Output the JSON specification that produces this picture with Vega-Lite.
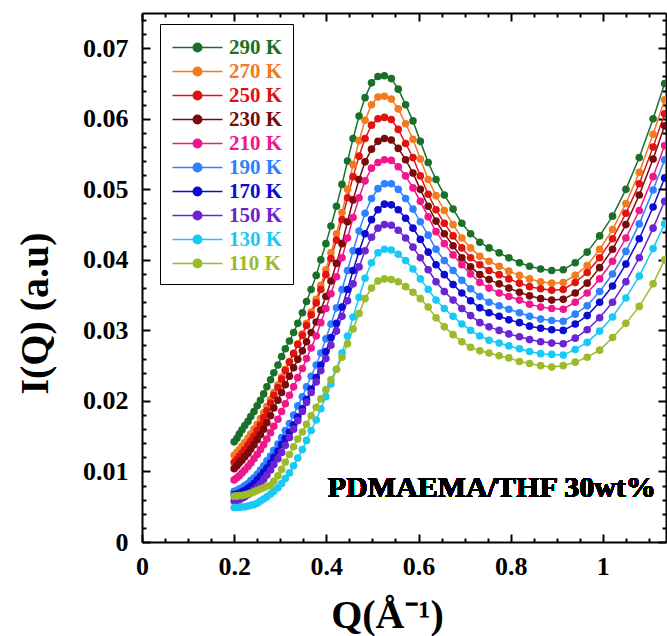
{
"$schema":"https://vega.github.io/schema/vega-lite/v6.json",
"width":524,"height":529,
"autosize":"none",
"padding":{"left":142,"top":13,"right":1,"bottom":94},
"background":"white",
"config":{"view":{"stroke":null}},
"data":{"values":[
{"t":"290 K","q":0.200,"i":0.0142},{"t":"290 K","q":0.206,"i":0.0147},{"t":"290 K","q":0.211,"i":0.0153},{"t":"290 K","q":0.217,"i":0.0159},{"t":"290 K","q":0.223,"i":0.0165},{"t":"290 K","q":0.230,"i":0.0171},{"t":"290 K","q":0.236,"i":0.0178},{"t":"290 K","q":0.243,"i":0.0185},{"t":"290 K","q":0.250,"i":0.0193},{"t":"290 K","q":0.257,"i":0.0201},
{"t":"290 K","q":0.264,"i":0.0210},{"t":"290 K","q":0.271,"i":0.0220},{"t":"290 K","q":0.279,"i":0.0230},{"t":"290 K","q":0.286,"i":0.0240},{"t":"290 K","q":0.295,"i":0.0251},{"t":"290 K","q":0.303,"i":0.0263},{"t":"290 K","q":0.311,"i":0.0274},{"t":"290 K","q":0.320,"i":0.0285},{"t":"290 K","q":0.329,"i":0.0297},{"t":"290 K","q":0.338,"i":0.0310},
{"t":"290 K","q":0.348,"i":0.0325},{"t":"290 K","q":0.357,"i":0.0341},{"t":"290 K","q":0.367,"i":0.0358},{"t":"290 K","q":0.378,"i":0.0378},{"t":"290 K","q":0.388,"i":0.0400},{"t":"290 K","q":0.399,"i":0.0423},{"t":"290 K","q":0.410,"i":0.0448},{"t":"290 K","q":0.422,"i":0.0476},{"t":"290 K","q":0.434,"i":0.0507},{"t":"290 K","q":0.446,"i":0.0540},
{"t":"290 K","q":0.458,"i":0.0572},{"t":"290 K","q":0.471,"i":0.0604},{"t":"290 K","q":0.484,"i":0.0630},{"t":"290 K","q":0.498,"i":0.0651},{"t":"290 K","q":0.512,"i":0.0660},{"t":"290 K","q":0.526,"i":0.0661},
{"t":"290 K","q":0.541,"i":0.0657},{"t":"290 K","q":0.556,"i":0.0642},{"t":"290 K","q":0.572,"i":0.0620},{"t":"290 K","q":0.588,"i":0.0597},{"t":"290 K","q":0.604,"i":0.0568},{"t":"290 K","q":0.621,"i":0.0538},{"t":"290 K","q":0.638,"i":0.0514},{"t":"290 K","q":0.656,"i":0.0492},{"t":"290 K","q":0.675,"i":0.0472},{"t":"290 K","q":0.694,"i":0.0452},
{"t":"290 K","q":0.713,"i":0.0437},{"t":"290 K","q":0.733,"i":0.0425},{"t":"290 K","q":0.753,"i":0.0417},{"t":"290 K","q":0.775,"i":0.0410},{"t":"290 K","q":0.796,"i":0.0403},{"t":"290 K","q":0.819,"i":0.0396},{"t":"290 K","q":0.841,"i":0.0391},{"t":"290 K","q":0.865,"i":0.0387},{"t":"290 K","q":0.889,"i":0.0385},
{"t":"290 K","q":0.914,"i":0.0386},{"t":"290 K","q":0.940,"i":0.0396},{"t":"290 K","q":0.966,"i":0.0411},{"t":"290 K","q":0.993,"i":0.0434},{"t":"290 K","q":1.021,"i":0.0462},{"t":"290 K","q":1.050,"i":0.0500},{"t":"290 K","q":1.079,"i":0.0545},{"t":"290 K","q":1.109,"i":0.0600},{"t":"290 K","q":1.134,"i":0.0650},

{"t":"270 K","q":0.200,"i":0.0123},{"t":"270 K","q":0.206,"i":0.0127},{"t":"270 K","q":0.211,"i":0.0131},{"t":"270 K","q":0.217,"i":0.0136},{"t":"270 K","q":0.223,"i":0.0141},{"t":"270 K","q":0.230,"i":0.0147},{"t":"270 K","q":0.236,"i":0.0153},{"t":"270 K","q":0.243,"i":0.0160},{"t":"270 K","q":0.250,"i":0.0167},{"t":"270 K","q":0.257,"i":0.0175},
{"t":"270 K","q":0.264,"i":0.0183},{"t":"270 K","q":0.271,"i":0.0192},{"t":"270 K","q":0.279,"i":0.0202},{"t":"270 K","q":0.286,"i":0.0212},{"t":"270 K","q":0.295,"i":0.0223},{"t":"270 K","q":0.303,"i":0.0234},{"t":"270 K","q":0.311,"i":0.0245},{"t":"270 K","q":0.320,"i":0.0256},{"t":"270 K","q":0.329,"i":0.0268},{"t":"270 K","q":0.338,"i":0.0281},
{"t":"270 K","q":0.348,"i":0.0295},{"t":"270 K","q":0.357,"i":0.0310},{"t":"270 K","q":0.367,"i":0.0326},{"t":"270 K","q":0.378,"i":0.0344},{"t":"270 K","q":0.388,"i":0.0364},{"t":"270 K","q":0.399,"i":0.0386},{"t":"270 K","q":0.410,"i":0.0410},{"t":"270 K","q":0.422,"i":0.0437},{"t":"270 K","q":0.434,"i":0.0467},{"t":"270 K","q":0.446,"i":0.0500},
{"t":"270 K","q":0.458,"i":0.0535},{"t":"270 K","q":0.471,"i":0.0569},{"t":"270 K","q":0.484,"i":0.0598},{"t":"270 K","q":0.498,"i":0.0620},{"t":"270 K","q":0.512,"i":0.0631},{"t":"270 K","q":0.526,"i":0.0632},
{"t":"270 K","q":0.541,"i":0.0628},{"t":"270 K","q":0.556,"i":0.0614},{"t":"270 K","q":0.572,"i":0.0593},{"t":"270 K","q":0.588,"i":0.0571},{"t":"270 K","q":0.604,"i":0.0543},{"t":"270 K","q":0.621,"i":0.0514},{"t":"270 K","q":0.638,"i":0.0491},{"t":"270 K","q":0.656,"i":0.0470},{"t":"270 K","q":0.675,"i":0.0450},{"t":"270 K","q":0.694,"i":0.0431},
{"t":"270 K","q":0.713,"i":0.0417},{"t":"270 K","q":0.733,"i":0.0405},{"t":"270 K","q":0.753,"i":0.0398},{"t":"270 K","q":0.775,"i":0.0391},{"t":"270 K","q":0.796,"i":0.0384},{"t":"270 K","q":0.819,"i":0.0378},{"t":"270 K","q":0.841,"i":0.0373},{"t":"270 K","q":0.865,"i":0.0369},{"t":"270 K","q":0.889,"i":0.0367},
{"t":"270 K","q":0.914,"i":0.0368},{"t":"270 K","q":0.940,"i":0.0378},{"t":"270 K","q":0.966,"i":0.0392},{"t":"270 K","q":0.993,"i":0.0415},{"t":"270 K","q":1.021,"i":0.0443},{"t":"270 K","q":1.050,"i":0.0480},{"t":"270 K","q":1.079,"i":0.0524},{"t":"270 K","q":1.109,"i":0.0578},{"t":"270 K","q":1.134,"i":0.0627},

{"t":"250 K","q":0.200,"i":0.0113},{"t":"250 K","q":0.206,"i":0.0117},{"t":"250 K","q":0.211,"i":0.0121},{"t":"250 K","q":0.217,"i":0.0126},{"t":"250 K","q":0.223,"i":0.0131},{"t":"250 K","q":0.230,"i":0.0137},{"t":"250 K","q":0.236,"i":0.0143},{"t":"250 K","q":0.243,"i":0.0150},{"t":"250 K","q":0.250,"i":0.0158},{"t":"250 K","q":0.257,"i":0.0166},
{"t":"250 K","q":0.264,"i":0.0176},{"t":"250 K","q":0.271,"i":0.0186},{"t":"250 K","q":0.279,"i":0.0197},{"t":"250 K","q":0.286,"i":0.0208},{"t":"250 K","q":0.295,"i":0.0219},{"t":"250 K","q":0.303,"i":0.0231},{"t":"250 K","q":0.311,"i":0.0243},{"t":"250 K","q":0.320,"i":0.0255},{"t":"250 K","q":0.329,"i":0.0267},{"t":"250 K","q":0.338,"i":0.0280},
{"t":"250 K","q":0.348,"i":0.0293},{"t":"250 K","q":0.357,"i":0.0307},{"t":"250 K","q":0.367,"i":0.0322},{"t":"250 K","q":0.378,"i":0.0339},{"t":"250 K","q":0.388,"i":0.0358},{"t":"250 K","q":0.399,"i":0.0379},{"t":"250 K","q":0.410,"i":0.0402},{"t":"250 K","q":0.422,"i":0.0428},{"t":"250 K","q":0.434,"i":0.0457},{"t":"250 K","q":0.446,"i":0.0488},
{"t":"250 K","q":0.458,"i":0.0518},{"t":"250 K","q":0.471,"i":0.0547},{"t":"250 K","q":0.484,"i":0.0572},{"t":"250 K","q":0.498,"i":0.0591},{"t":"250 K","q":0.512,"i":0.0600},{"t":"250 K","q":0.526,"i":0.0602},
{"t":"250 K","q":0.541,"i":0.0599},{"t":"250 K","q":0.556,"i":0.0585},{"t":"250 K","q":0.572,"i":0.0565},{"t":"250 K","q":0.588,"i":0.0545},{"t":"250 K","q":0.604,"i":0.0519},{"t":"250 K","q":0.621,"i":0.0493},{"t":"250 K","q":0.638,"i":0.0471},{"t":"250 K","q":0.656,"i":0.0452},{"t":"250 K","q":0.675,"i":0.0434},{"t":"250 K","q":0.694,"i":0.0417},
{"t":"250 K","q":0.713,"i":0.0403},{"t":"250 K","q":0.733,"i":0.0393},{"t":"250 K","q":0.753,"i":0.0385},{"t":"250 K","q":0.775,"i":0.0379},{"t":"250 K","q":0.796,"i":0.0373},{"t":"250 K","q":0.819,"i":0.0367},{"t":"250 K","q":0.841,"i":0.0362},{"t":"250 K","q":0.865,"i":0.0359},{"t":"250 K","q":0.889,"i":0.0357},
{"t":"250 K","q":0.914,"i":0.0358},{"t":"250 K","q":0.940,"i":0.0368},{"t":"250 K","q":0.966,"i":0.0382},{"t":"250 K","q":0.993,"i":0.0403},{"t":"250 K","q":1.021,"i":0.0430},{"t":"250 K","q":1.050,"i":0.0466},{"t":"250 K","q":1.079,"i":0.0508},{"t":"250 K","q":1.109,"i":0.0560},{"t":"250 K","q":1.134,"i":0.0607},

{"t":"230 K","q":0.200,"i":0.0104},{"t":"230 K","q":0.206,"i":0.0108},{"t":"230 K","q":0.211,"i":0.0112},{"t":"230 K","q":0.217,"i":0.0116},{"t":"230 K","q":0.223,"i":0.0121},{"t":"230 K","q":0.230,"i":0.0126},{"t":"230 K","q":0.236,"i":0.0132},{"t":"230 K","q":0.243,"i":0.0138},{"t":"230 K","q":0.250,"i":0.0145},{"t":"230 K","q":0.257,"i":0.0152},
{"t":"230 K","q":0.264,"i":0.0160},{"t":"230 K","q":0.271,"i":0.0169},{"t":"230 K","q":0.279,"i":0.0179},{"t":"230 K","q":0.286,"i":0.0190},{"t":"230 K","q":0.295,"i":0.0201},{"t":"230 K","q":0.303,"i":0.0212},{"t":"230 K","q":0.311,"i":0.0223},{"t":"230 K","q":0.320,"i":0.0235},{"t":"230 K","q":0.329,"i":0.0247},{"t":"230 K","q":0.338,"i":0.0259},
{"t":"230 K","q":0.348,"i":0.0271},{"t":"230 K","q":0.357,"i":0.0284},{"t":"230 K","q":0.367,"i":0.0297},{"t":"230 K","q":0.378,"i":0.0312},{"t":"230 K","q":0.388,"i":0.0329},{"t":"230 K","q":0.399,"i":0.0348},{"t":"230 K","q":0.410,"i":0.0370},{"t":"230 K","q":0.422,"i":0.0395},{"t":"230 K","q":0.434,"i":0.0423},{"t":"230 K","q":0.446,"i":0.0454},
{"t":"230 K","q":0.458,"i":0.0485},{"t":"230 K","q":0.471,"i":0.0514},{"t":"230 K","q":0.484,"i":0.0539},{"t":"230 K","q":0.498,"i":0.0557},{"t":"230 K","q":0.512,"i":0.0568},{"t":"230 K","q":0.526,"i":0.0572},
{"t":"230 K","q":0.541,"i":0.0570},{"t":"230 K","q":0.556,"i":0.0558},{"t":"230 K","q":0.572,"i":0.0542},{"t":"230 K","q":0.588,"i":0.0523},{"t":"230 K","q":0.604,"i":0.0500},{"t":"230 K","q":0.621,"i":0.0476},{"t":"230 K","q":0.638,"i":0.0455},{"t":"230 K","q":0.656,"i":0.0437},{"t":"230 K","q":0.675,"i":0.0420},{"t":"230 K","q":0.694,"i":0.0403},
{"t":"230 K","q":0.713,"i":0.0390},{"t":"230 K","q":0.733,"i":0.0379},{"t":"230 K","q":0.753,"i":0.0372},{"t":"230 K","q":0.775,"i":0.0366},{"t":"230 K","q":0.796,"i":0.0360},{"t":"230 K","q":0.819,"i":0.0354},{"t":"230 K","q":0.841,"i":0.0349},{"t":"230 K","q":0.865,"i":0.0345},{"t":"230 K","q":0.889,"i":0.0343},
{"t":"230 K","q":0.914,"i":0.0344},{"t":"230 K","q":0.940,"i":0.0353},{"t":"230 K","q":0.966,"i":0.0367},{"t":"230 K","q":0.993,"i":0.0389},{"t":"230 K","q":1.021,"i":0.0415},{"t":"230 K","q":1.050,"i":0.0450},{"t":"230 K","q":1.079,"i":0.0492},{"t":"230 K","q":1.109,"i":0.0543},{"t":"230 K","q":1.134,"i":0.0590},

{"t":"210 K","q":0.200,"i":0.0088},{"t":"210 K","q":0.206,"i":0.0091},{"t":"210 K","q":0.211,"i":0.0094},{"t":"210 K","q":0.217,"i":0.0098},{"t":"210 K","q":0.223,"i":0.0102},{"t":"210 K","q":0.230,"i":0.0107},{"t":"210 K","q":0.236,"i":0.0112},{"t":"210 K","q":0.243,"i":0.0118},{"t":"210 K","q":0.250,"i":0.0124},{"t":"210 K","q":0.257,"i":0.0131},
{"t":"210 K","q":0.264,"i":0.0138},{"t":"210 K","q":0.271,"i":0.0146},{"t":"210 K","q":0.279,"i":0.0155},{"t":"210 K","q":0.286,"i":0.0164},{"t":"210 K","q":0.295,"i":0.0174},{"t":"210 K","q":0.303,"i":0.0185},{"t":"210 K","q":0.311,"i":0.0196},{"t":"210 K","q":0.320,"i":0.0208},{"t":"210 K","q":0.329,"i":0.0220},{"t":"210 K","q":0.338,"i":0.0233},
{"t":"210 K","q":0.348,"i":0.0246},{"t":"210 K","q":0.357,"i":0.0260},{"t":"210 K","q":0.367,"i":0.0275},{"t":"210 K","q":0.378,"i":0.0292},{"t":"210 K","q":0.388,"i":0.0311},{"t":"210 K","q":0.399,"i":0.0331},{"t":"210 K","q":0.410,"i":0.0352},{"t":"210 K","q":0.422,"i":0.0376},{"t":"210 K","q":0.434,"i":0.0403},{"t":"210 K","q":0.446,"i":0.0431},
{"t":"210 K","q":0.458,"i":0.0460},{"t":"210 K","q":0.471,"i":0.0488},{"t":"210 K","q":0.484,"i":0.0512},{"t":"210 K","q":0.498,"i":0.0530},{"t":"210 K","q":0.512,"i":0.0538},{"t":"210 K","q":0.526,"i":0.0542},
{"t":"210 K","q":0.541,"i":0.0541},{"t":"210 K","q":0.556,"i":0.0532},{"t":"210 K","q":0.572,"i":0.0519},{"t":"210 K","q":0.588,"i":0.0502},{"t":"210 K","q":0.604,"i":0.0483},{"t":"210 K","q":0.621,"i":0.0461},{"t":"210 K","q":0.638,"i":0.0440},{"t":"210 K","q":0.656,"i":0.0423},{"t":"210 K","q":0.675,"i":0.0407},{"t":"210 K","q":0.694,"i":0.0393},
{"t":"210 K","q":0.713,"i":0.0380},{"t":"210 K","q":0.733,"i":0.0368},{"t":"210 K","q":0.753,"i":0.0360},{"t":"210 K","q":0.775,"i":0.0353},{"t":"210 K","q":0.796,"i":0.0348},{"t":"210 K","q":0.819,"i":0.0343},{"t":"210 K","q":0.841,"i":0.0337},{"t":"210 K","q":0.865,"i":0.0333},{"t":"210 K","q":0.889,"i":0.0331},
{"t":"210 K","q":0.914,"i":0.0330},{"t":"210 K","q":0.940,"i":0.0340},{"t":"210 K","q":0.966,"i":0.0353},{"t":"210 K","q":0.993,"i":0.0373},{"t":"210 K","q":1.021,"i":0.0398},{"t":"210 K","q":1.050,"i":0.0431},{"t":"210 K","q":1.079,"i":0.0470},{"t":"210 K","q":1.109,"i":0.0518},{"t":"210 K","q":1.134,"i":0.0562},

{"t":"190 K","q":0.200,"i":0.0072},{"t":"190 K","q":0.206,"i":0.0073},{"t":"190 K","q":0.211,"i":0.0075},{"t":"190 K","q":0.217,"i":0.0077},{"t":"190 K","q":0.223,"i":0.0080},{"t":"190 K","q":0.230,"i":0.0083},{"t":"190 K","q":0.236,"i":0.0087},{"t":"190 K","q":0.243,"i":0.0091},{"t":"190 K","q":0.250,"i":0.0096},{"t":"190 K","q":0.257,"i":0.0102},
{"t":"190 K","q":0.264,"i":0.0108},{"t":"190 K","q":0.271,"i":0.0115},{"t":"190 K","q":0.279,"i":0.0122},{"t":"190 K","q":0.286,"i":0.0130},{"t":"190 K","q":0.295,"i":0.0139},{"t":"190 K","q":0.303,"i":0.0148},{"t":"190 K","q":0.311,"i":0.0158},{"t":"190 K","q":0.320,"i":0.0168},{"t":"190 K","q":0.329,"i":0.0180},{"t":"190 K","q":0.338,"i":0.0193},
{"t":"190 K","q":0.348,"i":0.0206},{"t":"190 K","q":0.357,"i":0.0220},{"t":"190 K","q":0.367,"i":0.0235},{"t":"190 K","q":0.378,"i":0.0251},{"t":"190 K","q":0.388,"i":0.0268},{"t":"190 K","q":0.399,"i":0.0288},{"t":"190 K","q":0.410,"i":0.0309},{"t":"190 K","q":0.422,"i":0.0332},{"t":"190 K","q":0.434,"i":0.0358},{"t":"190 K","q":0.446,"i":0.0385},
{"t":"190 K","q":0.458,"i":0.0413},{"t":"190 K","q":0.471,"i":0.0441},{"t":"190 K","q":0.484,"i":0.0466},{"t":"190 K","q":0.498,"i":0.0487},{"t":"190 K","q":0.512,"i":0.0501},{"t":"190 K","q":0.526,"i":0.0508},
{"t":"190 K","q":0.541,"i":0.0508},{"t":"190 K","q":0.556,"i":0.0500},{"t":"190 K","q":0.572,"i":0.0487},{"t":"190 K","q":0.588,"i":0.0472},{"t":"190 K","q":0.604,"i":0.0454},{"t":"190 K","q":0.621,"i":0.0435},{"t":"190 K","q":0.638,"i":0.0415},{"t":"190 K","q":0.656,"i":0.0399},{"t":"190 K","q":0.675,"i":0.0385},{"t":"190 K","q":0.694,"i":0.0371},
{"t":"190 K","q":0.713,"i":0.0359},{"t":"190 K","q":0.733,"i":0.0348},{"t":"190 K","q":0.753,"i":0.0340},{"t":"190 K","q":0.775,"i":0.0335},{"t":"190 K","q":0.796,"i":0.0330},{"t":"190 K","q":0.819,"i":0.0325},{"t":"190 K","q":0.841,"i":0.0320},{"t":"190 K","q":0.865,"i":0.0316},{"t":"190 K","q":0.889,"i":0.0314},
{"t":"190 K","q":0.914,"i":0.0313},{"t":"190 K","q":0.940,"i":0.0323},{"t":"190 K","q":0.966,"i":0.0335},{"t":"190 K","q":0.993,"i":0.0355},{"t":"190 K","q":1.021,"i":0.0380},{"t":"190 K","q":1.050,"i":0.0412},{"t":"190 K","q":1.079,"i":0.0451},{"t":"190 K","q":1.109,"i":0.0499},{"t":"190 K","q":1.134,"i":0.0542},

{"t":"170 K","q":0.200,"i":0.0067},{"t":"170 K","q":0.206,"i":0.0068},{"t":"170 K","q":0.211,"i":0.0069},{"t":"170 K","q":0.217,"i":0.0071},{"t":"170 K","q":0.223,"i":0.0073},{"t":"170 K","q":0.230,"i":0.0076},{"t":"170 K","q":0.236,"i":0.0079},{"t":"170 K","q":0.243,"i":0.0083},{"t":"170 K","q":0.250,"i":0.0088},{"t":"170 K","q":0.257,"i":0.0093},
{"t":"170 K","q":0.264,"i":0.0099},{"t":"170 K","q":0.271,"i":0.0105},{"t":"170 K","q":0.279,"i":0.0112},{"t":"170 K","q":0.286,"i":0.0120},{"t":"170 K","q":0.295,"i":0.0129},{"t":"170 K","q":0.303,"i":0.0138},{"t":"170 K","q":0.311,"i":0.0147},{"t":"170 K","q":0.320,"i":0.0156},{"t":"170 K","q":0.329,"i":0.0166},{"t":"170 K","q":0.338,"i":0.0177},
{"t":"170 K","q":0.348,"i":0.0189},{"t":"170 K","q":0.357,"i":0.0202},{"t":"170 K","q":0.367,"i":0.0217},{"t":"170 K","q":0.378,"i":0.0233},{"t":"170 K","q":0.388,"i":0.0251},{"t":"170 K","q":0.399,"i":0.0270},{"t":"170 K","q":0.410,"i":0.0290},{"t":"170 K","q":0.422,"i":0.0310},{"t":"170 K","q":0.434,"i":0.0333},{"t":"170 K","q":0.446,"i":0.0358},
{"t":"170 K","q":0.458,"i":0.0385},{"t":"170 K","q":0.471,"i":0.0412},{"t":"170 K","q":0.484,"i":0.0437},{"t":"170 K","q":0.498,"i":0.0457},{"t":"170 K","q":0.512,"i":0.0471},{"t":"170 K","q":0.526,"i":0.0479},
{"t":"170 K","q":0.541,"i":0.0478},{"t":"170 K","q":0.556,"i":0.0471},{"t":"170 K","q":0.572,"i":0.0459},{"t":"170 K","q":0.588,"i":0.0445},{"t":"170 K","q":0.604,"i":0.0429},{"t":"170 K","q":0.621,"i":0.0411},{"t":"170 K","q":0.638,"i":0.0393},{"t":"170 K","q":0.656,"i":0.0379},{"t":"170 K","q":0.675,"i":0.0365},{"t":"170 K","q":0.694,"i":0.0353},
{"t":"170 K","q":0.713,"i":0.0342},{"t":"170 K","q":0.733,"i":0.0332},{"t":"170 K","q":0.753,"i":0.0325},{"t":"170 K","q":0.775,"i":0.0320},{"t":"170 K","q":0.796,"i":0.0315},{"t":"170 K","q":0.819,"i":0.0311},{"t":"170 K","q":0.841,"i":0.0306},{"t":"170 K","q":0.865,"i":0.0303},{"t":"170 K","q":0.889,"i":0.0301},
{"t":"170 K","q":0.914,"i":0.0300},{"t":"170 K","q":0.940,"i":0.0309},{"t":"170 K","q":0.966,"i":0.0321},{"t":"170 K","q":0.993,"i":0.0340},{"t":"170 K","q":1.021,"i":0.0363},{"t":"170 K","q":1.050,"i":0.0394},{"t":"170 K","q":1.079,"i":0.0430},{"t":"170 K","q":1.109,"i":0.0475},{"t":"170 K","q":1.134,"i":0.0516},

{"t":"150 K","q":0.200,"i":0.0058},{"t":"150 K","q":0.206,"i":0.0059},{"t":"150 K","q":0.211,"i":0.0060},{"t":"150 K","q":0.217,"i":0.0062},{"t":"150 K","q":0.223,"i":0.0064},{"t":"150 K","q":0.230,"i":0.0067},{"t":"150 K","q":0.236,"i":0.0070},{"t":"150 K","q":0.243,"i":0.0074},{"t":"150 K","q":0.250,"i":0.0078},{"t":"150 K","q":0.257,"i":0.0083},
{"t":"150 K","q":0.264,"i":0.0089},{"t":"150 K","q":0.271,"i":0.0095},{"t":"150 K","q":0.279,"i":0.0102},{"t":"150 K","q":0.286,"i":0.0110},{"t":"150 K","q":0.295,"i":0.0118},{"t":"150 K","q":0.303,"i":0.0127},{"t":"150 K","q":0.311,"i":0.0137},{"t":"150 K","q":0.320,"i":0.0148},{"t":"150 K","q":0.329,"i":0.0160},{"t":"150 K","q":0.338,"i":0.0172},
{"t":"150 K","q":0.348,"i":0.0185},{"t":"150 K","q":0.357,"i":0.0198},{"t":"150 K","q":0.367,"i":0.0212},{"t":"150 K","q":0.378,"i":0.0227},{"t":"150 K","q":0.388,"i":0.0243},{"t":"150 K","q":0.399,"i":0.0260},{"t":"150 K","q":0.410,"i":0.0279},{"t":"150 K","q":0.422,"i":0.0299},{"t":"150 K","q":0.434,"i":0.0320},{"t":"150 K","q":0.446,"i":0.0342},
{"t":"150 K","q":0.458,"i":0.0366},{"t":"150 K","q":0.471,"i":0.0390},{"t":"150 K","q":0.484,"i":0.0413},{"t":"150 K","q":0.498,"i":0.0432},{"t":"150 K","q":0.512,"i":0.0445},{"t":"150 K","q":0.526,"i":0.0450},
{"t":"150 K","q":0.541,"i":0.0449},{"t":"150 K","q":0.556,"i":0.0442},{"t":"150 K","q":0.572,"i":0.0431},{"t":"150 K","q":0.588,"i":0.0418},{"t":"150 K","q":0.604,"i":0.0403},{"t":"150 K","q":0.621,"i":0.0386},{"t":"150 K","q":0.638,"i":0.0369},{"t":"150 K","q":0.656,"i":0.0355},{"t":"150 K","q":0.675,"i":0.0343},{"t":"150 K","q":0.694,"i":0.0331},
{"t":"150 K","q":0.713,"i":0.0321},{"t":"150 K","q":0.733,"i":0.0311},{"t":"150 K","q":0.753,"i":0.0305},{"t":"150 K","q":0.775,"i":0.0300},{"t":"150 K","q":0.796,"i":0.0295},{"t":"150 K","q":0.819,"i":0.0291},{"t":"150 K","q":0.841,"i":0.0287},{"t":"150 K","q":0.865,"i":0.0284},{"t":"150 K","q":0.889,"i":0.0282},
{"t":"150 K","q":0.914,"i":0.0281},{"t":"150 K","q":0.940,"i":0.0289},{"t":"150 K","q":0.966,"i":0.0301},{"t":"150 K","q":0.993,"i":0.0318},{"t":"150 K","q":1.021,"i":0.0340},{"t":"150 K","q":1.050,"i":0.0369},{"t":"150 K","q":1.079,"i":0.0403},{"t":"150 K","q":1.109,"i":0.0445},{"t":"150 K","q":1.134,"i":0.0483},

{"t":"130 K","q":0.200,"i":0.0049},{"t":"130 K","q":0.206,"i":0.0049},{"t":"130 K","q":0.211,"i":0.0049},{"t":"130 K","q":0.217,"i":0.0050},{"t":"130 K","q":0.223,"i":0.0050},{"t":"130 K","q":0.230,"i":0.0051},{"t":"130 K","q":0.236,"i":0.0052},{"t":"130 K","q":0.243,"i":0.0053},{"t":"130 K","q":0.250,"i":0.0055},{"t":"130 K","q":0.257,"i":0.0058},
{"t":"130 K","q":0.264,"i":0.0061},{"t":"130 K","q":0.271,"i":0.0064},{"t":"130 K","q":0.279,"i":0.0068},{"t":"130 K","q":0.286,"i":0.0072},{"t":"130 K","q":0.295,"i":0.0077},{"t":"130 K","q":0.303,"i":0.0083},{"t":"130 K","q":0.311,"i":0.0090},{"t":"130 K","q":0.320,"i":0.0098},{"t":"130 K","q":0.329,"i":0.0108},{"t":"130 K","q":0.338,"i":0.0119},
{"t":"130 K","q":0.348,"i":0.0131},{"t":"130 K","q":0.357,"i":0.0144},{"t":"130 K","q":0.367,"i":0.0158},{"t":"130 K","q":0.378,"i":0.0173},{"t":"130 K","q":0.388,"i":0.0189},{"t":"130 K","q":0.399,"i":0.0206},{"t":"130 K","q":0.410,"i":0.0224},{"t":"130 K","q":0.422,"i":0.0245},{"t":"130 K","q":0.434,"i":0.0268},{"t":"130 K","q":0.446,"i":0.0292},
{"t":"130 K","q":0.458,"i":0.0319},{"t":"130 K","q":0.471,"i":0.0347},{"t":"130 K","q":0.484,"i":0.0374},{"t":"130 K","q":0.498,"i":0.0396},{"t":"130 K","q":0.512,"i":0.0410},{"t":"130 K","q":0.526,"i":0.0415},
{"t":"130 K","q":0.541,"i":0.0414},{"t":"130 K","q":0.556,"i":0.0408},{"t":"130 K","q":0.572,"i":0.0399},{"t":"130 K","q":0.588,"i":0.0387},{"t":"130 K","q":0.604,"i":0.0373},{"t":"130 K","q":0.621,"i":0.0358},{"t":"130 K","q":0.638,"i":0.0343},{"t":"130 K","q":0.656,"i":0.0331},{"t":"130 K","q":0.675,"i":0.0320},{"t":"130 K","q":0.694,"i":0.0309},
{"t":"130 K","q":0.713,"i":0.0300},{"t":"130 K","q":0.733,"i":0.0292},{"t":"130 K","q":0.753,"i":0.0286},{"t":"130 K","q":0.775,"i":0.0282},{"t":"130 K","q":0.796,"i":0.0278},{"t":"130 K","q":0.819,"i":0.0274},{"t":"130 K","q":0.841,"i":0.0270},{"t":"130 K","q":0.865,"i":0.0267},{"t":"130 K","q":0.889,"i":0.0266},
{"t":"130 K","q":0.914,"i":0.0265},{"t":"130 K","q":0.940,"i":0.0273},{"t":"130 K","q":0.966,"i":0.0283},{"t":"130 K","q":0.993,"i":0.0299},{"t":"130 K","q":1.021,"i":0.0319},{"t":"130 K","q":1.050,"i":0.0346},{"t":"130 K","q":1.079,"i":0.0377},{"t":"130 K","q":1.109,"i":0.0416},{"t":"130 K","q":1.134,"i":0.0451},

{"t":"110 K","q":0.200,"i":0.0065},{"t":"110 K","q":0.206,"i":0.0065},{"t":"110 K","q":0.211,"i":0.0066},{"t":"110 K","q":0.217,"i":0.0066},{"t":"110 K","q":0.223,"i":0.0067},{"t":"110 K","q":0.230,"i":0.0068},{"t":"110 K","q":0.236,"i":0.0069},{"t":"110 K","q":0.243,"i":0.0071},{"t":"110 K","q":0.250,"i":0.0073},{"t":"110 K","q":0.257,"i":0.0075},
{"t":"110 K","q":0.264,"i":0.0077},{"t":"110 K","q":0.271,"i":0.0079},{"t":"110 K","q":0.279,"i":0.0080},{"t":"110 K","q":0.286,"i":0.0086},{"t":"110 K","q":0.295,"i":0.0094},{"t":"110 K","q":0.303,"i":0.0103},{"t":"110 K","q":0.311,"i":0.0113},{"t":"110 K","q":0.320,"i":0.0124},{"t":"110 K","q":0.329,"i":0.0135},{"t":"110 K","q":0.338,"i":0.0146},
{"t":"110 K","q":0.348,"i":0.0156},{"t":"110 K","q":0.357,"i":0.0167},{"t":"110 K","q":0.367,"i":0.0179},{"t":"110 K","q":0.378,"i":0.0191},{"t":"110 K","q":0.388,"i":0.0203},{"t":"110 K","q":0.399,"i":0.0216},{"t":"110 K","q":0.410,"i":0.0230},{"t":"110 K","q":0.422,"i":0.0245},{"t":"110 K","q":0.434,"i":0.0262},{"t":"110 K","q":0.446,"i":0.0281},
{"t":"110 K","q":0.458,"i":0.0302},{"t":"110 K","q":0.471,"i":0.0324},{"t":"110 K","q":0.484,"i":0.0345},{"t":"110 K","q":0.498,"i":0.0360},{"t":"110 K","q":0.512,"i":0.0370},{"t":"110 K","q":0.526,"i":0.0373},
{"t":"110 K","q":0.541,"i":0.0372},{"t":"110 K","q":0.556,"i":0.0369},{"t":"110 K","q":0.572,"i":0.0362},{"t":"110 K","q":0.588,"i":0.0354},{"t":"110 K","q":0.604,"i":0.0345},{"t":"110 K","q":0.621,"i":0.0333},{"t":"110 K","q":0.638,"i":0.0318},{"t":"110 K","q":0.656,"i":0.0305},{"t":"110 K","q":0.675,"i":0.0294},{"t":"110 K","q":0.694,"i":0.0284},
{"t":"110 K","q":0.713,"i":0.0276},{"t":"110 K","q":0.733,"i":0.0271},{"t":"110 K","q":0.753,"i":0.0268},{"t":"110 K","q":0.775,"i":0.0264},{"t":"110 K","q":0.796,"i":0.0261},{"t":"110 K","q":0.819,"i":0.0256},{"t":"110 K","q":0.841,"i":0.0253},{"t":"110 K","q":0.865,"i":0.0250},{"t":"110 K","q":0.889,"i":0.0248},
{"t":"110 K","q":0.914,"i":0.0250},{"t":"110 K","q":0.940,"i":0.0255},{"t":"110 K","q":0.966,"i":0.0262},{"t":"110 K","q":0.993,"i":0.0272},{"t":"110 K","q":1.021,"i":0.0290},{"t":"110 K","q":1.050,"i":0.0310},{"t":"110 K","q":1.079,"i":0.0334},{"t":"110 K","q":1.109,"i":0.0366},{"t":"110 K","q":1.134,"i":0.0400}
]},
"layer":[
{"mark":{"type":"line","strokeWidth":1.5,"clip":true},
 "encoding":{
  "x":{"field":"q","type":"quantitative","scale":{"domain":[0,1.137],"nice":false,"zero":false},
   "axis":{"orient":"bottom","values":[0,0.05,0.1,0.15,0.2,0.25,0.3,0.35,0.4,0.45,0.5,0.55,0.6,0.65,0.7,0.75,0.8,0.85,0.9,0.95,1,1.05,1.1],
    "labelExpr":"abs(datum.value*5-round(datum.value*5))<0.001 ? format(datum.value,'~g') : ''",
    "tickSize":{"condition":{"test":"abs(datum.value*5-round(datum.value*5))<0.001","value":-8},"value":-4},
    "grid":false,"domainColor":"black","domainWidth":2,"tickColor":"black","tickWidth":2,
    "labelFont":"Liberation Serif","labelFontWeight":"bold","labelFontSize":26,"labelColor":"black","labelPadding":19,"labelOverlap":false,"labelFlush":false,
    "title":"Q(Å⁻¹)","titleFont":"Liberation Serif","titleFontWeight":"bold","titleFontSize":40,"titleColor":"black",
    "titleX":245,"titleY":73,"titleAlign":"center","titleBaseline":"middle","titleAnchor":"middle"}},
  "y":{"field":"i","type":"quantitative","scale":{"domain":[0,0.075],"nice":false,"zero":false},
   "axis":{"orient":"left","values":[0,0.002,0.004,0.006,0.008,0.01,0.012,0.014,0.016,0.018,0.02,0.022,0.024,0.026,0.028,0.03,0.032,0.034,0.036,0.038,0.04,0.042,0.044,0.046,0.048,0.05,0.052,0.054,0.056,0.058,0.06,0.062,0.064,0.066,0.068,0.07,0.072,0.074],
    "labelExpr":"abs(datum.value*100-round(datum.value*100))<0.001 ? format(datum.value,'~g') : ''",
    "tickSize":{"condition":{"test":"abs(datum.value*100-round(datum.value*100))<0.001","value":-8},"value":-4},
    "grid":false,"domainColor":"black","domainWidth":2,"tickColor":"black","tickWidth":2,
    "labelFont":"Liberation Serif","labelFontWeight":"bold","labelFontSize":26,"labelColor":"black","labelPadding":22,"labelOverlap":false,"labelFlush":false,
    "title":"I(Q) (a.u)","titleFont":"Liberation Serif","titleFontWeight":"bold","titleFontSize":40,"titleColor":"black",
    "titleX":-107,"titleY":300,"titleAngle":-90,"titleAlign":"center","titleBaseline":"middle","titleAnchor":"middle"}},
  "color":{"field":"t","type":"nominal",
   "scale":{"domain":["290 K","270 K","250 K","230 K","210 K","190 K","170 K","150 K","130 K","110 K"],
    "range":["#1b7029","#f27a1f","#e01313","#7a0b0b","#f0168c","#2f82ff","#0b0bd2","#6b24d2","#19c9f5","#9bbb2b"]},
   "legend":{"orient":"none","legendX":18,"legendY":11,"title":null,
    "symbolType":"M-2,0L2,0M-0.34,0A0.34,0.34,0,1,0,0.34,0A0.34,0.34,0,1,0,-0.34,0",
    "symbolSize":625,"symbolStrokeWidth":1.5,"symbolOffset":14,
    "labelFont":"Liberation Serif","labelFontWeight":"bold","labelFontSize":21,"labelOffset":18,
    "strokeColor":"black","padding":10,"rowPadding":-2,
    "encode":{"labels":{"update":{"fill":{"scale":"color","field":"value"}}},
     "symbols":{"update":{"fill":{"scale":"color","field":"value"},"stroke":{"scale":"color","field":"value"}}}}}}
 }},
{"mark":{"type":"point","filled":true,"size":58,"opacity":1,"clip":true},
 "encoding":{
  "x":{"field":"q","type":"quantitative",
   "axis":{"orient":"top","values":[0,0.05,0.1,0.15,0.2,0.25,0.3,0.35,0.4,0.45,0.5,0.55,0.6,0.65,0.7,0.75,0.8,0.85,0.9,0.95,1,1.05,1.1],
    "labels":false,"title":null,"grid":false,"domainColor":"black","domainWidth":2,"tickColor":"black","tickWidth":2,
    "tickSize":{"condition":{"test":"abs(datum.value*5-round(datum.value*5))<0.001","value":-8},"value":-4}}},
  "y":{"field":"i","type":"quantitative",
   "axis":{"orient":"right","values":[0,0.002,0.004,0.006,0.008,0.01,0.012,0.014,0.016,0.018,0.02,0.022,0.024,0.026,0.028,0.03,0.032,0.034,0.036,0.038,0.04,0.042,0.044,0.046,0.048,0.05,0.052,0.054,0.056,0.058,0.06,0.062,0.064,0.066,0.068,0.07,0.072,0.074],
    "labels":false,"title":null,"grid":false,"domainColor":"black","domainWidth":2,"tickColor":"black","tickWidth":2,
    "tickSize":{"condition":{"test":"abs(datum.value*100-round(datum.value*100))<0.001","value":-8},"value":-4}}},
  "color":{"field":"t","type":"nominal",
   "legend":{"orient":"none","legendX":18,"legendY":11,"title":null,
    "symbolType":"M-2,0L2,0M-0.34,0A0.34,0.34,0,1,0,0.34,0A0.34,0.34,0,1,0,-0.34,0",
    "symbolSize":625,"symbolStrokeWidth":1.5,"symbolOffset":14,
    "labelFont":"Liberation Serif","labelFontWeight":"bold","labelFontSize":21,"labelOffset":18,
    "strokeColor":"black","padding":10,"rowPadding":-2,
    "encode":{"labels":{"update":{"fill":{"scale":"color","field":"value"}}},
     "symbols":{"update":{"fill":{"scale":"color","field":"value"},"stroke":{"scale":"color","field":"value"}}}}}}
 }},
{"mark":{"type":"text","font":"Liberation Serif","fontWeight":"bold","fontSize":30,"color":"black","align":"center","baseline":"middle"},
 "encoding":{"x":{"datum":0.759,"type":"quantitative","axis":null},"y":{"datum":0.0076,"type":"quantitative","axis":null},"text":{"value":"PDMAEMA/THF 30wt%"}}}
],
"resolve":{"axis":{"x":"independent","y":"independent"}}
}
